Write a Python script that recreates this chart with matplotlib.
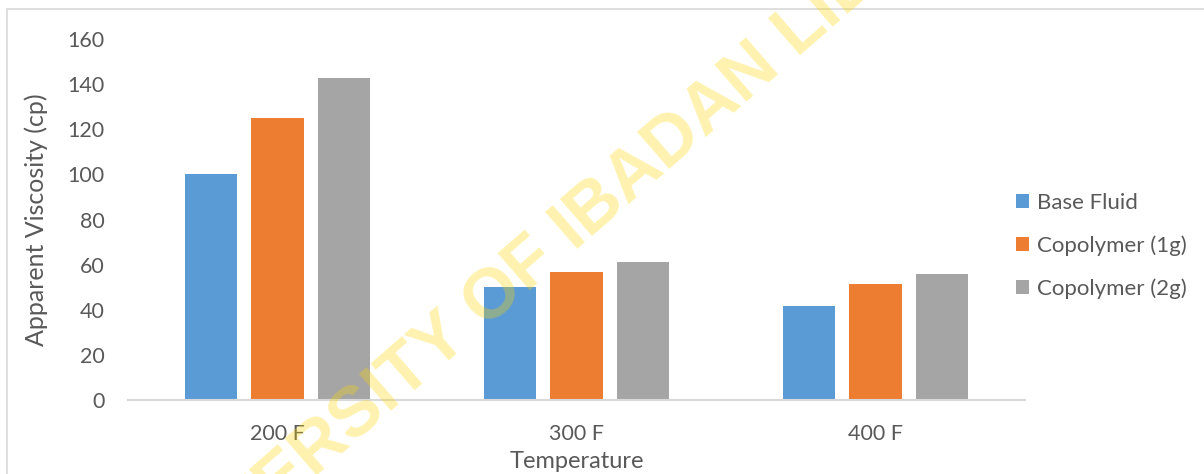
import numpy as np
import matplotlib.pyplot as plt
from matplotlib.patches import Rectangle

temps = ['200 F', '300 F', '400 F']
base_fluid = [100, 50.3, 41.8]
copolymer_1g = [125, 56.7, 51.4]
copolymer_2g = [142.7, 61.2, 55.9]
series_names = ['Base Fluid', 'Copolymer (1g)', 'Copolymer (2g)']
colors = ['#5b9bd5', '#ed7d31', '#a5a5a5']

txt = '#595959'
plt.rcParams['font.family'] = ['Lato', 'DejaVu Sans']

W, H = 1204, 474
fig = plt.figure(figsize=(W / 100, H / 100), dpi=100)
ax = fig.add_axes([128 / W, 74 / H, 897 / W, 361 / H])

x = np.arange(len(temps))
w = 0.174
step = 0.224
for i, (vals, name, c) in enumerate(zip([base_fluid, copolymer_1g, copolymer_2g], series_names, colors)):
    ax.bar(x + (i - 1) * step, vals, w, color=c, label=name, zorder=2)

ax.set_xlim(-0.5, 2.5)
ax.set_ylim(0, 160)
ax.set_yticks(range(0, 161, 20))
ax.set_xticks(x)
ax.set_xticklabels(temps)
for s in ['top', 'right', 'left']:
    ax.spines[s].set_visible(False)
ax.spines['bottom'].set_color('#d9d9d9')
ax.spines['bottom'].set_linewidth(1.5)
ax.tick_params(axis='both', length=0, labelsize=15.5, colors=txt)
ax.tick_params(axis='y', pad=17)
ax.tick_params(axis='x', pad=17)

# axis titles placed where the reference has them
fig.text(36 / W, 1 - 220 / H, 'Apparent Viscosity (cp)', fontsize=18, color=txt,
         rotation=90, ha='center', va='center')
fig.text(577 / W, 1 - 462 / H, 'Temperature', fontsize=17, color=txt,
         ha='center', va='center')

leg = ax.legend(loc='center left', frameon=False, fontsize=16,
                handlelength=0.6, handleheight=0.6, handletextpad=0.35, labelspacing=1.02,
                borderaxespad=0, borderpad=0.4)
leg.set_bbox_to_anchor((1007 / W, 1 - 246 / H), transform=fig.transFigure)
for t in leg.get_texts():
    t.set_color(txt)

# chart border
fig.patches.append(Rectangle((7 / W, -0.1), 1.2, 1 - 9.5 / H + 0.1, transform=fig.transFigure,
                             fill=False, edgecolor='#d9d9d9', linewidth=1.2))

# library watermark
fig.text(580 / W, 1 - 224 / H, 'UNIVERSITY OF IBADAN LIBRARY', fontsize=51,
         family='Liberation Sans', fontweight='bold', color='#ffd700', alpha=0.31,
         rotation=41, ha='center', va='center', rotation_mode='anchor', zorder=10)

fig.savefig('out.png', dpi=100)
